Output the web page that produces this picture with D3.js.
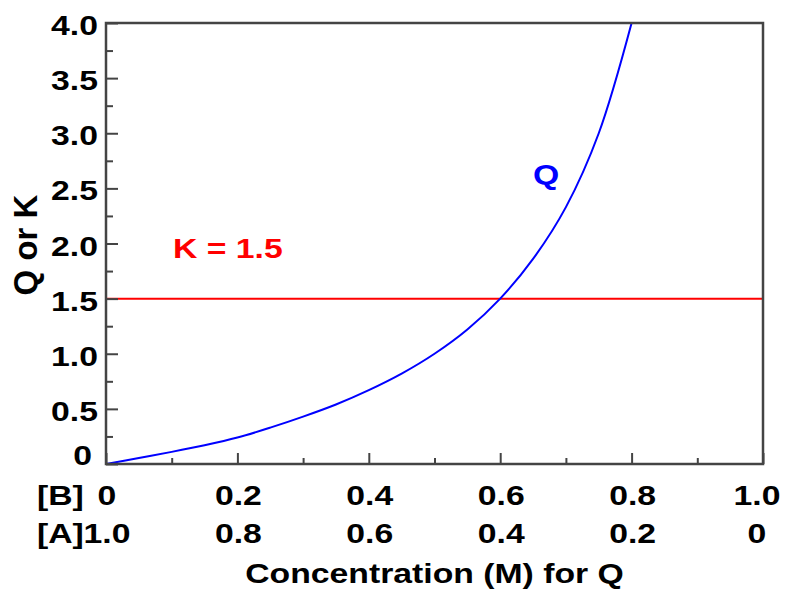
<!DOCTYPE html>
<html>
<head>
<meta charset="utf-8">
<script src="https://cdn.jsdelivr.net/npm/d3@7"></script>
<style>
  html, body { margin: 0; padding: 0; background: #fff; }
  text { font-family: "Liberation Sans", Arial, sans-serif; font-weight: bold; }
</style>
</head>
<body>
<svg id="chart"></svg>
<script>
// Q = [B]/[A], [B] from 0 to 0.8
const bConc = [0, 0.05, 0.1, 0.15, 0.2, 0.25, 0.3, 0.35, 0.4, 0.45, 0.5, 0.55, 0.6, 0.65, 0.7, 0.75, 0.8];
const qValues = [0, 0.055, 0.11, 0.17, 0.24, 0.33, 0.43, 0.54, 0.67, 0.82, 1.0, 1.22, 1.5, 1.86, 2.33, 3.0, 4.0];
const kValue = 1.5;

// axis ticks and labels
const xMajorTicks = [0, 0.2, 0.4, 0.6, 0.8, 1.0];
const xMinorTicks = [0.1, 0.3, 0.5, 0.7, 0.9];
const bLabels = ['0', '0.2', '0.4', '0.6', '0.8', '1.0'];
const aLabels = ['1.0', '0.8', '0.6', '0.4', '0.2', '0'];
const yMajorTicks = [0, 0.5, 1.0, 1.5, 2.0, 2.5, 3.0, 3.5, 4.0];
const yMinorTicks = [0.25, 0.75, 1.25, 1.75, 2.25, 2.75, 3.25, 3.75];
const yLabels = ['0', '0.5', '1.0', '1.5', '2.0', '2.5', '3.0', '3.5', '4.0'];

const width = 791, height = 590;
const margin = { left: 106, top: 23, right: 28, bottom: 126 };
const stretch = 1.25;   // text in the original is drawn wide
const fontSize = 27;
const axisColor = '#444';

const svg = d3.select('#chart').attr('width', width).attr('height', height);

const x = d3.scaleLinear().domain([0, 1]).range([margin.left, width - margin.right]);
const y = d3.scaleLinear().domain([0, 4]).range([height - margin.bottom, margin.top]);

// wide bold text helper
function label(g, txt, px, py, anchor, size, color, rot) {
    return g.append('text')
        .attr('transform', `translate(${px},${py})` + (rot ? ` rotate(${rot})` : '') + ` scale(${rot ? 1 : stretch},1)`)
        .attr('text-anchor', anchor)
        .attr('font-size', size)
        .attr('fill', color || '#000')
        .text(txt);
}

// K line
svg.append('line')
    .attr('x1', x(0)).attr('x2', x(1))
    .attr('y1', y(kValue)).attr('y2', y(kValue))
    .attr('stroke', '#ff0000')
    .attr('stroke-width', 2);

// Q curve
svg.append('clipPath').attr('id', 'plot-clip')
    .append('rect')
    .attr('x', x(0)).attr('y', y(4))
    .attr('width', x(1) - x(0)).attr('height', y(0) - y(4));

const line = d3.line()
    .x((d, i) => x(bConc[i]))
    .y(d => y(d))
    .curve(d3.curveCatmullRom.alpha(0.5));

svg.append('path')
    .datum(qValues)
    .attr('clip-path', 'url(#plot-clip)')
    .attr('d', line)
    .attr('fill', 'none')
    .attr('stroke', '#0000ff')
    .attr('stroke-width', 2);

// ticks (pointing inward)
const bottomMajor = svg.append('g')
    .attr('transform', `translate(0,${y(0)})`)
    .call(d3.axisBottom(x).tickValues(xMajorTicks).tickSize(-11).tickFormat(''));
const bottomMinor = svg.append('g')
    .attr('transform', `translate(0,${y(0)})`)
    .call(d3.axisBottom(x).tickValues(xMinorTicks).tickSize(-6).tickFormat(''));
const leftMajor = svg.append('g')
    .attr('transform', `translate(${x(0)},0)`)
    .call(d3.axisLeft(y).tickValues(yMajorTicks).tickSize(-12).tickFormat(''));
const leftMinor = svg.append('g')
    .attr('transform', `translate(${x(0)},0)`)
    .call(d3.axisLeft(y).tickValues(yMinorTicks).tickSize(-7).tickFormat(''));

[bottomMajor, bottomMinor, leftMajor, leftMinor].forEach(g => {
    g.select('.domain').remove();
    g.selectAll('line').attr('stroke', axisColor).attr('stroke-width', 2);
});

// frame
svg.append('rect')
    .attr('x', x(0)).attr('y', y(4))
    .attr('width', x(1) - x(0)).attr('height', y(0) - y(4))
    .attr('fill', 'none')
    .attr('stroke', axisColor)
    .attr('stroke-width', 2.5);

// y tick labels
const labels = svg.append('g');
yMajorTicks.forEach((v, i) => {
    if (v === 0) {
        label(labels, yLabels[i], 92, y(v) + 1, 'end', fontSize);
    } else {
        label(labels, yLabels[i], 98, y(v) + 12, 'end', fontSize);
    }
});

// x tick labels, two rows: [B] and [A]
xMajorTicks.forEach((v, i) => {
    const px = Math.min(x(v) + 1, 757);
    label(labels, bLabels[i], px, 505, 'middle', fontSize);
    label(labels, aLabels[i], px, 543, 'middle', fontSize);
});
label(labels, '[B]', 37, 505, 'start', fontSize);
label(labels, '[A]', 37, 543, 'start', fontSize);

// axis titles
label(labels, 'Concentration (M) for Q', (x(0) + x(1)) / 2, 583, 'middle', fontSize);
label(labels, 'Q or K', 37, 245, 'middle', 33, '#000', -90);

// series annotations
label(labels, 'Q', 546, 184, 'middle', fontSize, '#0000ff');
label(labels, 'K = 1.5', 173, 258, 'start', fontSize, '#ff0000');
</script>
</body>
</html>
